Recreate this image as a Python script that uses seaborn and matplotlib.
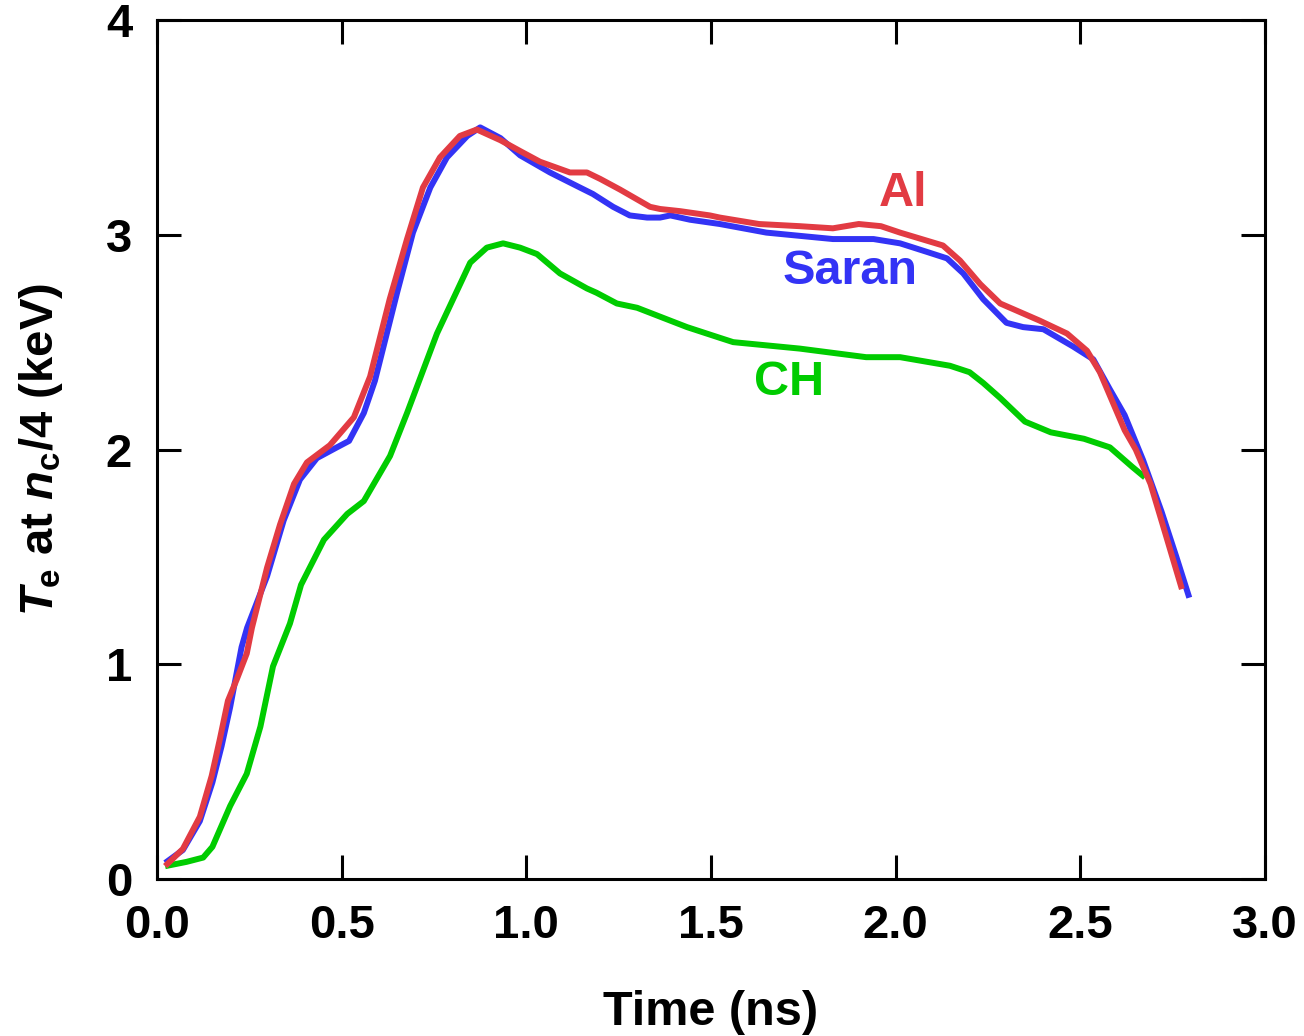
import matplotlib
matplotlib.use("Agg")
import matplotlib.pyplot as plt
import seaborn as sns

# --- data (Time in ns, Te in keV) ---
al_t = [0.022, 0.07, 0.116, 0.148, 0.17, 0.192, 0.216, 0.243, 0.257, 0.298, 0.333, 0.371, 0.406,
        0.468, 0.533, 0.577, 0.63, 0.677, 0.72, 0.766, 0.82, 0.866, 0.93, 0.983, 1.037, 1.118,
        1.164, 1.2, 1.254, 1.335, 1.362, 1.416, 1.497, 1.524, 1.63, 1.74, 1.83, 1.90, 1.96,
        2.012, 2.07, 2.128, 2.174, 2.229, 2.283, 2.39, 2.464, 2.518, 2.553, 2.62, 2.65, 2.69,
        2.73, 2.775]
al_T = [0.06, 0.14, 0.29, 0.48, 0.65, 0.83, 0.93, 1.05, 1.17, 1.45, 1.65, 1.84, 1.94,
        2.02, 2.15, 2.34, 2.70, 2.98, 3.22, 3.36, 3.46, 3.49, 3.44, 3.39, 3.34, 3.29,
        3.29, 3.26, 3.21, 3.13, 3.12, 3.11, 3.09, 3.08, 3.05, 3.04, 3.03, 3.05, 3.04,
        3.01, 2.98, 2.95, 2.88, 2.77, 2.68, 2.60, 2.54, 2.46, 2.36, 2.09, 2.00, 1.84,
        1.61, 1.35]

saran_t = [0.022, 0.07, 0.116, 0.15, 0.175, 0.198, 0.229, 0.244, 0.298, 0.343, 0.387, 0.433,
           0.487, 0.52, 0.56, 0.59, 0.65, 0.693, 0.74, 0.785, 0.84, 0.875, 0.93, 0.983, 1.064,
           1.145, 1.18, 1.235, 1.28, 1.327, 1.362, 1.39, 1.443, 1.524, 1.65, 1.83, 1.94, 2.012,
           2.085, 2.139, 2.183, 2.237, 2.30, 2.345, 2.40, 2.48, 2.535, 2.58, 2.62, 2.67, 2.72,
           2.76, 2.795]
saran_T = [0.075, 0.135, 0.27, 0.45, 0.62, 0.80, 1.08, 1.17, 1.41, 1.67, 1.86, 1.96,
           2.01, 2.04, 2.17, 2.32, 2.73, 3.01, 3.22, 3.36, 3.46, 3.50, 3.45, 3.37, 3.29,
           3.22, 3.19, 3.13, 3.09, 3.08, 3.08, 3.09, 3.07, 3.05, 3.01, 2.98, 2.98, 2.96,
           2.92, 2.89, 2.82, 2.70, 2.59, 2.57, 2.56, 2.48, 2.42, 2.28, 2.16, 1.95, 1.71,
           1.50, 1.31]

ch_t = [0.022, 0.08, 0.125, 0.15, 0.198, 0.243, 0.28, 0.314, 0.36, 0.39, 0.452, 0.515, 0.56,
        0.631, 0.677, 0.758, 0.848, 0.893, 0.937, 0.983, 1.029, 1.091, 1.164, 1.19, 1.245,
        1.30, 1.39, 1.435, 1.524, 1.56, 1.74, 1.92, 2.012, 2.147, 2.20, 2.237, 2.283, 2.35,
        2.42, 2.51, 2.58, 2.64, 2.675]
ch_T = [0.06, 0.08, 0.10, 0.15, 0.34, 0.49, 0.71, 0.99, 1.19, 1.37, 1.58, 1.70, 1.76,
        1.97, 2.17, 2.54, 2.87, 2.94, 2.96, 2.94, 2.91, 2.82, 2.75, 2.73, 2.68,
        2.66, 2.60, 2.57, 2.52, 2.50, 2.47, 2.43, 2.43, 2.39, 2.36, 2.31, 2.24, 2.13,
        2.08, 2.05, 2.01, 1.92, 1.87]

x_ticks = [0.0, 0.5, 1.0, 1.5, 2.0, 2.5, 3.0]
x_tick_labels = ["0.0", "0.5", "1.0", "1.5", "2.0", "2.5", "3.0"]
y_ticks = [0, 1, 2, 3, 4]
y_tick_labels = ["0", "1", "2", "3", "4"]

labels = ["Al", "Saran", "CH"]
label_pos = [(2.02, 3.19), (1.877, 2.83), (1.71, 2.31)]
colors = ["#E23B43", "#3333F5", "#00CC00"]

sns.set_theme(style="ticks")
plt.rcParams["font.family"] = ["Liberation Sans", "DejaVu Sans"]
plt.rcParams["font.weight"] = "bold"
plt.rcParams["text.color"] = "black"
plt.rcParams["axes.labelcolor"] = "black"
plt.rcParams["mathtext.fontset"] = "custom"
plt.rcParams["mathtext.rm"] = "Liberation Sans:bold"
plt.rcParams["mathtext.it"] = "Liberation Sans:bold:italic"
plt.rcParams["mathtext.bf"] = "Liberation Sans:bold"

fig = plt.figure(figsize=(13.04, 10.36), dpi=100)
ax = fig.add_axes([0.1204, 0.1515, 0.8497, 0.8292])

lw = 4.3
line_kw = dict(ax=ax, lw=lw, sort=False, estimator=None, solid_joinstyle="round",
               solid_capstyle="butt")
sns.lineplot(x=saran_t, y=saran_T, color=colors[1], **line_kw)
sns.lineplot(x=ch_t, y=ch_T, color=colors[2], **line_kw)
sns.lineplot(x=al_t, y=al_T, color=colors[0], **line_kw)

for lab, (tx, ty), c in zip(labels, label_pos, colors):
    ax.text(tx, ty, lab, color=c, fontsize=35, fontweight="bold", ha="center", va="center")

ax.set_xlim(0, 3.0)
ax.set_ylim(0, 4)
ax.set_xticks(x_ticks)
ax.set_xticklabels(x_tick_labels)
ax.set_yticks(y_ticks)
ax.set_yticklabels(y_tick_labels)
ax.tick_params(direction="in", length=17, width=2.2, top=True, right=True,
               labelsize=34, pad=18, color="black", labelcolor="black")
for lbl in ax.get_xticklabels() + ax.get_yticklabels():
    lbl.set_fontweight("bold")
for s in ax.spines.values():
    s.set_linewidth(2.2)
    s.set_color("black")

ax.set_xlabel("Time (ns)", fontsize=35, fontweight="bold", labelpad=30, color="black")
ax.set_ylabel(r"$T_\mathrm{e}$ at $n_\mathrm{c}$/4 (keV)", fontsize=34, fontweight="bold",
              labelpad=29, color="black")

fig.savefig("out.png", dpi=100, facecolor="white")
